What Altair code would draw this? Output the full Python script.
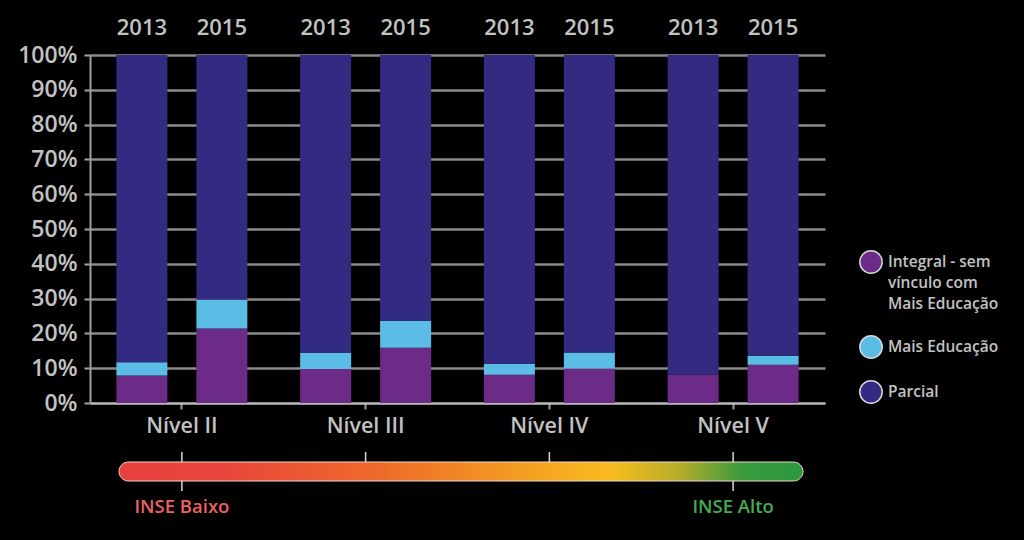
import altair as alt
import pandas as pd

# ---- data ----
niveis = ["Nível II", "Nível III", "Nível IV", "Nível V"]
anos = ["2013", "2015"]
integral = [7.9, 21.4, 9.8, 15.9, 8.1, 9.9, 8.2, 11.0]
mais_educacao = [3.8, 8.3, 4.6, 7.7, 3.2, 4.6, 0.0, 2.6]
parcial = [88.3, 70.3, 85.6, 76.4, 88.7, 85.5, 91.8, 86.4]
series = ["Integral - sem vínculo com Mais Educação", "Mais Educação", "Parcial"]
colors = ["#6b2b87", "#5bbde6", "#332a81"]
legend_labels = ["Integral - sem\nvínculo com\nMais Educação", "Mais Educação", "Parcial"]
inse_labels = ["INSE Baixo", "INSE Alto"]
inse_niveis = ["Nível II", "Nível V"]
inse_colors = ["#ec6262", "#45ab52"]
y_ticks = list(range(0, 101, 10))

rows = []
for ni, n in enumerate(niveis):
    for ai, a in enumerate(anos):
        i = ni * 2 + ai
        for k, vals in enumerate([integral, mais_educacao, parcial]):
            rows.append({"nivel": n, "ano": a, "serie": series[k], "ord": k, "valor": vals[i]})
df = pd.DataFrame(rows)
df_years = pd.DataFrame([{"nivel": n, "ano": a} for n in niveis for a in anos])
df_niv = pd.DataFrame({"nivel": niveis})
df_inse = pd.DataFrame({"nivel": inse_niveis, "label": inse_labels})

FONT = "Open Sans"
GRAY = "#c2c2c2"
W, H = 735, 348

xN = alt.X("nivel:N", sort=niveis,
           scale=alt.Scale(paddingInner=0, paddingOuter=0),
           axis=alt.Axis(title=None, labelAngle=0, labelFontSize=21.5, labelFont=FONT,
                         labelFontWeight=600, labelColor=GRAY, labelPadding=6,
                         tickSize=6, tickColor="#a0a0a0", tickWidth=2,
                         domainColor="#b8b8b8", domainWidth=2, grid=False))
xO = alt.XOffset("ano:N", sort=anos, scale=alt.Scale(paddingInner=0.3625, paddingOuter=0.33))

bars = alt.Chart(df).mark_bar().encode(
    x=xN, xOffset=xO,
    y=alt.Y("valor:Q", stack="zero",
            scale=alt.Scale(domain=[0, 100], nice=False),
            axis=alt.Axis(title=None, values=y_ticks, labelExpr="datum.value + '%'",
                          labelFontSize=23, labelFont=FONT, labelFontWeight=600,
                          labelColor=GRAY, labelPadding=7, tickSize=6, tickColor="#a0a0a0",
                          tickWidth=2, domainColor="#a0a0a0", domainWidth=2,
                          grid=True, gridColor="#8a8a8a", gridWidth=2.5)),
    color=alt.Color("serie:N", scale=alt.Scale(domain=series, range=colors), legend=None),
    order=alt.Order("ord:Q"),
)

years = alt.Chart(df_years).mark_text(
    font=FONT, fontSize=22, fontWeight=600, color=GRAY, baseline="middle"
).encode(x=xN, xOffset=xO, y=alt.value(-27), text="ano:N")

layers = [bars, years]

# legend
leg_y = [207, 292, 337]
for k in range(3):
    d = pd.DataFrame({"serie": [series[k]], "label": [legend_labels[k]]})
    layers.append(alt.Chart(d).mark_point(
        filled=True, shape="circle", size=500, fill=colors[k], opacity=1,
        stroke="#d8d8d8", strokeWidth=1.5
    ).encode(x=alt.value(781), y=alt.value(leg_y[k])))
    layers.append(alt.Chart(d).mark_text(
        align="left", baseline="top", lineBreak="\n", lineHeight=21,
        font=FONT, fontSize=15.5, fontWeight=600, color=GRAY
    ).encode(x=alt.value(798), y=alt.value(leg_y[k] - 7), text="label:N"))

# INSE gradient scale
ticks_up = alt.Chart(df_niv).mark_rule(color="#d8d8d8", strokeWidth=1.5).encode(
    x=xN, y=alt.value(397), y2=alt.value(412))
ticks_down = alt.Chart(df_inse).mark_rule(color="#d8d8d8", strokeWidth=1.5).encode(
    x=xN, y=alt.value(420), y2=alt.value(436))
grad = alt.Chart(pd.DataFrame({"a": [0]})).mark_rect(
    fill=alt.LinearGradient(
        gradient="linear", x1=0, x2=1, y1=0, y2=0,
        stops=[alt.GradientStop(color="#e8403f", offset=0),
               alt.GradientStop(color="#e9453c", offset=0.15),
               alt.GradientStop(color="#ee6a2b", offset=0.38),
               alt.GradientStop(color="#f4a021", offset=0.6),
               alt.GradientStop(color="#f8bc1f", offset=0.72),
               alt.GradientStop(color="#b5ad2a", offset=0.82),
               alt.GradientStop(color="#3a9a3e", offset=0.91),
               alt.GradientStop(color="#2c983d", offset=1)]),
    cornerRadius=9.5, stroke="#eed8d0", strokeWidth=1
).encode(x=alt.value(29), x2=alt.value(713), y=alt.value(407), y2=alt.value(426))
layers += [ticks_up, ticks_down, grad]

for lab, niv, col in zip(inse_labels, inse_niveis, inse_colors):
    d = pd.DataFrame({"nivel": [niv], "label": [lab]})
    layers.append(alt.Chart(d).mark_text(
        font=FONT, fontSize=18.5, fontWeight=600, color=col, baseline="middle"
    ).encode(x=xN, y=alt.value(452), text="label:N"))

chart = alt.layer(*layers).properties(
    width=W, height=H,
    padding={"left": 82, "top": 47, "right": 191, "bottom": 129},
    autosize=alt.AutoSizeParams(type="none"),
    background="black",
).configure_view(stroke=None)

# make the page around the chart black as well
try:
    import altair.utils.html as _h
    _orig = _h.TEMPLATES["standard"]

    class _BlackPage:
        def render(self, *a, **kw):
            return _orig.render(*a, **kw).replace(
                "<head>", "<head><style>html,body{background:#000;}</style>", 1)

    _h.TEMPLATES["standard"] = _BlackPage()
except Exception:
    pass

chart.save("out.html", embed_options={"renderer": "svg", "actions": False})
